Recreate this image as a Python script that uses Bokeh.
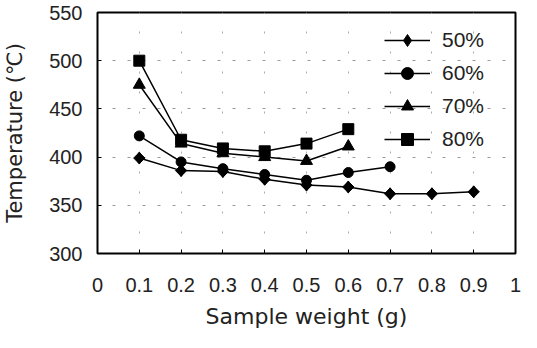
import math
from bokeh.plotting import figure
from bokeh.models import Range1d, FixedTicker, Legend, LegendItem
from bokeh.embed import file_html
from bokeh.resources import INLINE

# Data
x50 = [0.1, 0.2, 0.3, 0.4, 0.5, 0.6, 0.7, 0.8, 0.9]
t50 = [399, 386, 385, 377, 371, 369, 362, 362, 364]
x60 = [0.1, 0.2, 0.3, 0.4, 0.5, 0.6, 0.7]
t60 = [422, 395, 388, 382, 376, 384, 390]
x70 = [0.1, 0.2, 0.3, 0.4, 0.5, 0.6]
t70 = [475, 414, 404, 400, 396, 411]
x80 = [0.1, 0.2, 0.3, 0.4, 0.5, 0.6]
t80 = [500, 418, 409, 406, 414, 429]

series_names = ["50%", "60%", "70%", "80%"]
x_ticks = [0, 0.1, 0.2, 0.3, 0.4, 0.5, 0.6, 0.7, 0.8, 0.9, 1]
x_tick_labels = ["0", "0.1", "0.2", "0.3", "0.4", "0.5", "0.6", "0.7", "0.8", "0.9", "1"]
y_ticks = [300, 350, 400, 450, 500, 550]

TICK_FONT = "Liberation Sans"
TITLE_FONT = "DejaVu Sans"

p = figure(width=521, height=332, output_backend="svg", toolbar_location=None,
           x_range=Range1d(0, 1), y_range=Range1d(300, 550),
           min_border_left=95, min_border_right=6, min_border_top=12, min_border_bottom=79)

p.outline_line_color = "black"
p.outline_line_width = 2
p.background_fill_color = "white"
p.border_fill_color = "white"

# axes
p.xaxis.ticker = FixedTicker(ticks=x_ticks)
p.xaxis.major_label_overrides = {t: l for t, l in zip(x_ticks, x_tick_labels)}
p.yaxis.ticker = FixedTicker(ticks=y_ticks)
for ax in (p.xaxis, p.yaxis):
    ax.axis_line_color = None
    ax.major_tick_in = 4
    ax.major_tick_out = 0
    ax.major_tick_line_color = "black"
    ax.minor_tick_line_color = None
    ax.major_label_text_font = TICK_FONT
    ax.major_label_text_font_size = "20px"
    ax.major_label_text_color = "#222222"
    ax.axis_label_text_font = TITLE_FONT
    ax.axis_label_text_font_style = "normal"
    ax.axis_label_text_color = "#222222"

p.xaxis.axis_label_text_font_size = "22px"
p.yaxis.axis_label_text_font_size = "21px"
p.xaxis.axis_label = "Sample weight (g)"
p.yaxis.axis_label = "Temperature (℃)"
p.xaxis.major_label_standoff = 24
p.xaxis.axis_label_standoff = 9
p.yaxis.major_label_standoff = 15
p.yaxis.axis_label_standoff = 19

# grids
p.ygrid.ticker = FixedTicker(ticks=y_ticks)
p.ygrid.grid_line_color = "#999999"
p.ygrid.grid_line_dash = "3 12"
p.ygrid.grid_line_width = 1
p.xgrid.ticker = FixedTicker(ticks=x_ticks)
p.xgrid.grid_line_color = "#aaaaaa"
p.xgrid.grid_line_dash = "2 18"
p.xgrid.grid_line_width = 1

series = [
    (x50, t50, "diamond", 12),
    (x60, t60, "circle", 10),
    (x70, t70, "triangle", 12),
    (x80, t80, "square", 11),
]

items = []
for (xs, ys, marker, size), name in zip(series, series_names):
    ln = p.line(xs, ys, line_color="black", line_width=1.5)
    sc = p.scatter(xs, ys, marker=marker, size=size,
                   fill_color="black", line_color="black")
    if marker == "diamond":
        # wider rhombus over the narrow diamond, as in the reference
        p.scatter(xs, ys, marker="square", size=8, angle=math.pi / 4,
                  fill_color="black", line_color="black")
    items.append(LegendItem(label=name, renderers=[ln, sc]))

legend = Legend(items=items, location=(287, 99))
legend.padding = 0
legend.margin = 0
legend.spacing = 3
legend.glyph_width = 46
legend.glyph_height = 30
legend.label_standoff = 12
legend.label_text_font = TICK_FONT
legend.label_text_font_size = "21px"
legend.label_text_color = "#222222"
legend.background_fill_alpha = 0
legend.border_line_color = None
p.add_layout(legend, "center")

open("out.html", "w").write(file_html(p, INLINE))
